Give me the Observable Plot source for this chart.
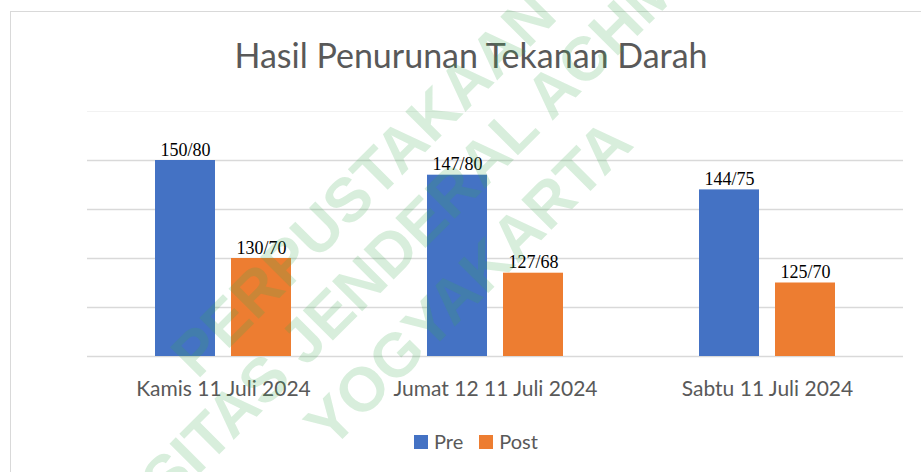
<!DOCTYPE html>
<html>
<head>
<meta charset="utf-8">
<script src="https://cdn.jsdelivr.net/npm/d3@7"></script>
<script src="https://cdn.jsdelivr.net/npm/@observablehq/plot@0.6"></script>
<style>
  html, body { margin: 0; padding: 0; background: #fff; width: 921px; height: 472px; overflow: hidden; }
  #frame { position: absolute; left: 10px; top: 11px; width: 1000px; height: 1000px; border: 1.5px solid #d9d9d9; box-sizing: border-box; }
  #title { position: absolute; left: 0; top: 38px; width: 942px; text-align: center; font-family: Lato, sans-serif; font-size: 34px; line-height: 1; color: #595959; white-space: nowrap; }
  #chart { position: absolute; left: 0; top: 0; }
  #legend { position: absolute; left: 0; top: 431px; width: 952px; text-align: center; font-family: Lato, sans-serif; font-size: 20px; line-height: 1; color: #595959; white-space: nowrap; }
  #legend .sw { display: inline-block; width: 14px; height: 14px; vertical-align: baseline; margin-right: 6px; }
  #legend .item { display: inline-block; margin: 0 8px; }
  #wm { position: absolute; left: 0; top: 0; pointer-events: none; }
</style>
</head>
<body>
<div id="frame"></div>
<div id="chart"></div>
<div id="title">Hasil Penurunan Tekanan Darah</div>
<div id="legend"></div>
<svg id="wm" width="921" height="472"></svg>
<script>
// ---- data ----
const days = ["Kamis 11 Juli 2024", "Jumat 12 11 Juli 2024", "Sabtu 11 Juli 2024"];
const series = ["Pre", "Post"];
const colors = ["#4472C4", "#ED7D31"];
const preSys = [150, 147, 144];
const preDia = [80, 80, 75];
const postSys = [130, 127, 125];
const postDia = [70, 68, 70];
const yTicks = [110, 120, 130, 140, 150];
const yMax = 160;
const watermarkLines = ["PERPUSTAKAAN", "UNIVERSITAS JENDERAL ACHMAD YANI", "YOGYAKARTA"];

const data = days.flatMap((d, i) => [
  {day: d, series: "Pre", sys: preSys[i], dia: preDia[i]},
  {day: d, series: "Post", sys: postSys[i], dia: postDia[i]}
]);

const chart = Plot.plot({
  width: 921,
  height: 472,
  marginTop: 111,
  marginBottom: 116,
  marginLeft: 87,
  marginRight: 18,
  style: {fontFamily: "Lato, sans-serif", fontSize: "21px", color: "#595959", background: "transparent", overflow: "visible"},
  fx: {domain: days, padding: 0, label: null},
  x: {domain: series, paddingInner: 16 / 77, paddingOuter: 0.873, axis: null},
  y: {domain: [yTicks[0], yMax], axis: null},
  color: {domain: series, range: colors},
  marks: [
    Plot.ruleY([yMax], {stroke: "#f2f2f2", strokeWidth: 1}),
    Plot.ruleY(yTicks, {stroke: "#d9d9d9", strokeWidth: 1.5}),
    Plot.barY(data, {fx: "day", x: "series", y1: yTicks[0], y2: "sys", fill: "series"}),
    Plot.text(data, {
      fx: "day", x: "series", y: "sys",
      text: d => `${d.sys}/${d.dia}`,
      lineAnchor: "bottom", dy: -5,
      fontFamily: "'Liberation Serif', 'Times New Roman', serif",
      fontSize: 18, fill: "#000"
    }),
    Plot.axisFx({anchor: "bottom", tickSize: 0, tickPadding: 25, label: null, fontSize: 21})
  ]
});
document.getElementById("chart").appendChild(chart);

// ---- legend ----
const legend = document.getElementById("legend");
series.forEach((s, i) => {
  const item = document.createElement("span");
  item.className = "item";
  const sw = document.createElement("span");
  sw.className = "sw";
  sw.style.background = colors[i];
  item.appendChild(sw);
  item.appendChild(document.createTextNode(s));
  legend.appendChild(item);
});

// ---- watermark ----
const wm = d3.select("#wm");
const wmPos = [[363, 184], [415, 228], [468, 283]];
watermarkLines.forEach((t, i) => {
  wm.append("text")
    .attr("transform", `translate(${wmPos[i][0]},${wmPos[i][1]}) rotate(-45)`)
    .attr("text-anchor", "middle")
    .attr("dominant-baseline", "central")
    .attr("font-family", "'Liberation Sans', Arial, sans-serif")
    .attr("font-weight", "bold")
    .attr("font-size", 62)
    .attr("fill", "rgb(60,170,80)")
    .attr("fill-opacity", 0.2)
    .text(t);
});
</script>
</body>
</html>
